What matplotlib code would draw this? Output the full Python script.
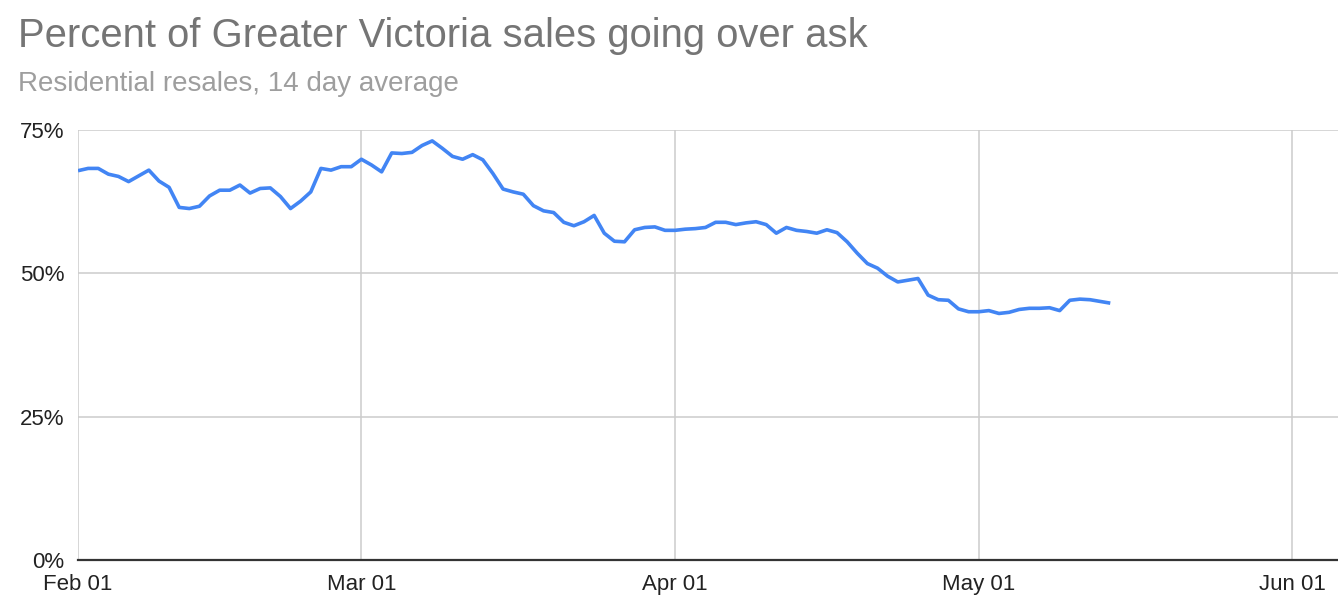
"""Percent of Greater Victoria sales going over ask (14 day average)."""

import matplotlib

matplotlib.use("Agg")
import matplotlib.dates as mdates
import matplotlib.pyplot as plt
import pandas as pd

plt.rcParams["font.family"] = ["Liberation Sans", "DejaVu Sans"]

# daily values, Feb 01 .. May 14
START = "2022-02-01"
END = "2022-05-14"
FEB = [67.9, 68.3, 68.3, 67.3, 66.9, 66.0, 67.0, 68.0, 66.1, 65.0,
       61.5, 61.3, 61.7, 63.5, 64.5, 64.5, 65.4, 64.0, 64.8, 64.9,
       63.4, 61.3, 62.6, 64.2, 68.3, 68.0, 68.6, 68.6]
MAR = [69.9, 68.9, 67.7, 71.0, 70.9, 71.1, 72.3, 73.1, 71.8, 70.4,
       69.9, 70.7, 69.8, 67.4, 64.7, 64.2, 63.8, 61.8, 60.9, 60.6,
       58.9, 58.3, 59.0, 60.1, 57.0, 55.6, 55.5, 57.6, 58.0, 58.1,
       57.5]
APR = [57.5, 57.7, 57.8, 58.0, 58.9, 58.9, 58.5, 58.8, 59.0, 58.5,
       57.0, 58.0, 57.5, 57.3, 57.0, 57.6, 57.1, 55.5, 53.5, 51.7,
       50.9, 49.5, 48.5, 48.8, 49.1, 46.2, 45.4, 45.3, 43.8, 43.3]
MAY = [43.3, 43.5, 43.0, 43.2, 43.7, 43.9, 43.9, 44.0, 43.5, 45.3,
       45.5, 45.4, 45.1, 44.8]
MONTH_TICKS = ["2022-02-01", "2022-03-01", "2022-04-01", "2022-05-01", "2022-06-01"]
Y_TICKS = [0, 25, 50, 75]

TITLE = "Percent of Greater Victoria sales going over ask"
SUBTITLE = "Residential resales, 14 day average"

W, H = 1338, 610
fig = plt.figure(figsize=(W / 100, H / 100), dpi=100)
ax = fig.add_axes([78 / W, 50 / H, (W - 78) / W, 430 / H])

dates = pd.date_range(START, END, freq="D")
values = FEB + MAR + APR + MAY
ax.plot(dates, values, color="#4285F4", lw=2.6, solid_joinstyle="round",
        solid_capstyle="butt", zorder=3)

x0 = pd.Timestamp(START)
ax.set_xlim(x0, x0 + pd.Timedelta(days=124.5))
ax.set_ylim(0, 75)

ax.set_xticks(pd.to_datetime(MONTH_TICKS))
ax.xaxis.set_major_formatter(mdates.DateFormatter("%b %d"))
ax.set_yticks(Y_TICKS)
ax.set_yticklabels([f"{v}%" for v in Y_TICKS])

ax.grid(True, color="#cccccc", lw=1.1, zorder=1)
for side in ("top", "right", "left"):
    ax.spines[side].set_visible(False)
ax.spines["bottom"].set_color("#333333")
ax.spines["bottom"].set_linewidth(1.6)
ax.spines["bottom"].set_zorder(4)
ax.tick_params(axis="both", length=0, labelsize=16, labelcolor="#222222")
ax.tick_params(axis="x", pad=10)
ax.tick_params(axis="y", pad=10)

fig.text(18 / W, 1 - 47 / H, TITLE, fontsize=28.8, color="#757575",
         va="baseline", ha="left")
fig.text(18 / W, 1 - 91 / H, SUBTITLE, fontsize=20, color="#9e9e9e",
         va="baseline", ha="left")

fig.savefig("out.png", dpi=100)
